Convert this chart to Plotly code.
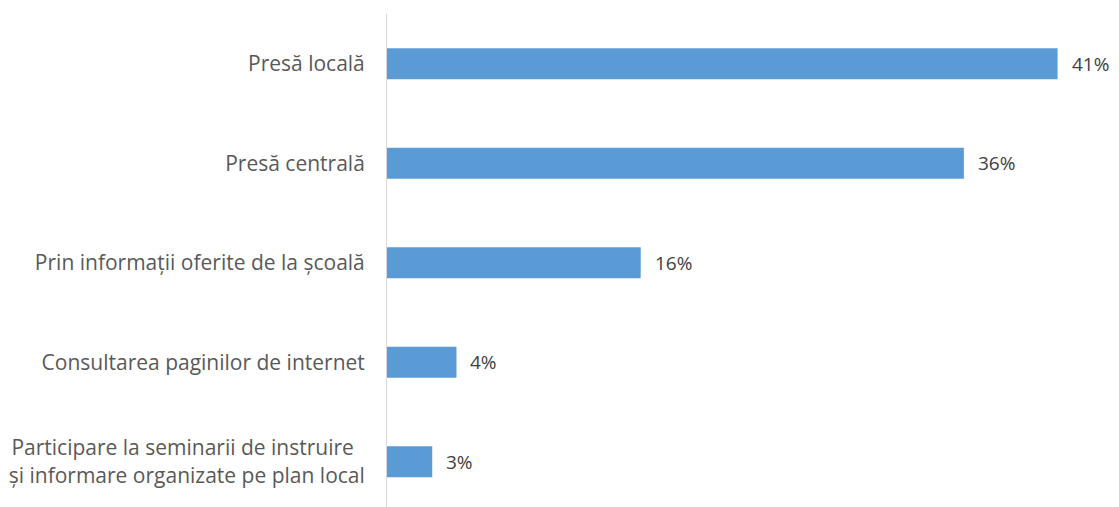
import plotly.graph_objects as go

categories = [
    "Presă locală",
    "Presă centrală",
    "Prin informații oferite de la școală",
    "Consultarea paginilor de internet",
    "Participare la seminarii de instruire\u00a0\u00a0<br>și informare organizate pe plan local",
]
values = [41.5, 35.7, 15.7, 4.3, 2.8]
labels = ["41%", "36%", "16%", "4%", "3%"]

FONT = "Open Sans"
FS = 21

fig = go.Figure()
fig.add_trace(go.Bar(
    y=categories,
    x=values,
    orientation="h",
    width=0.31,
    marker=dict(color="#5B9BD5", line=dict(width=0)),
    hoverinfo="skip",
))

for c, v, t in zip(categories, values, labels):
    fig.add_annotation(
        x=v, y=c, text=t, showarrow=False, xanchor="left", xshift=12,
        font=dict(family=FONT, size=19, color="#404040"),
    )

fig.update_layout(
    width=1111, height=499,
    margin=dict(l=379, r=0, t=6, b=0, autoexpand=False),
    paper_bgcolor="white", plot_bgcolor="white",
    showlegend=False,
    font=dict(family=FONT, size=FS, color="#595959"),
    xaxis=dict(range=[0, 45.3], showgrid=False, zeroline=False,
               showticklabels=False, showline=False, ticks=""),
    yaxis=dict(categoryorder="array", categoryarray=categories,
               range=[4.455, -0.5], showgrid=False, zeroline=False,
               showline=True, linecolor="#D9D9D9", linewidth=1,
               ticks="", ticklabelstandoff=17, automargin=False,
               tickfont=dict(family=FONT, size=FS, color="#595959")),
)

fig.write_html("out.html")
